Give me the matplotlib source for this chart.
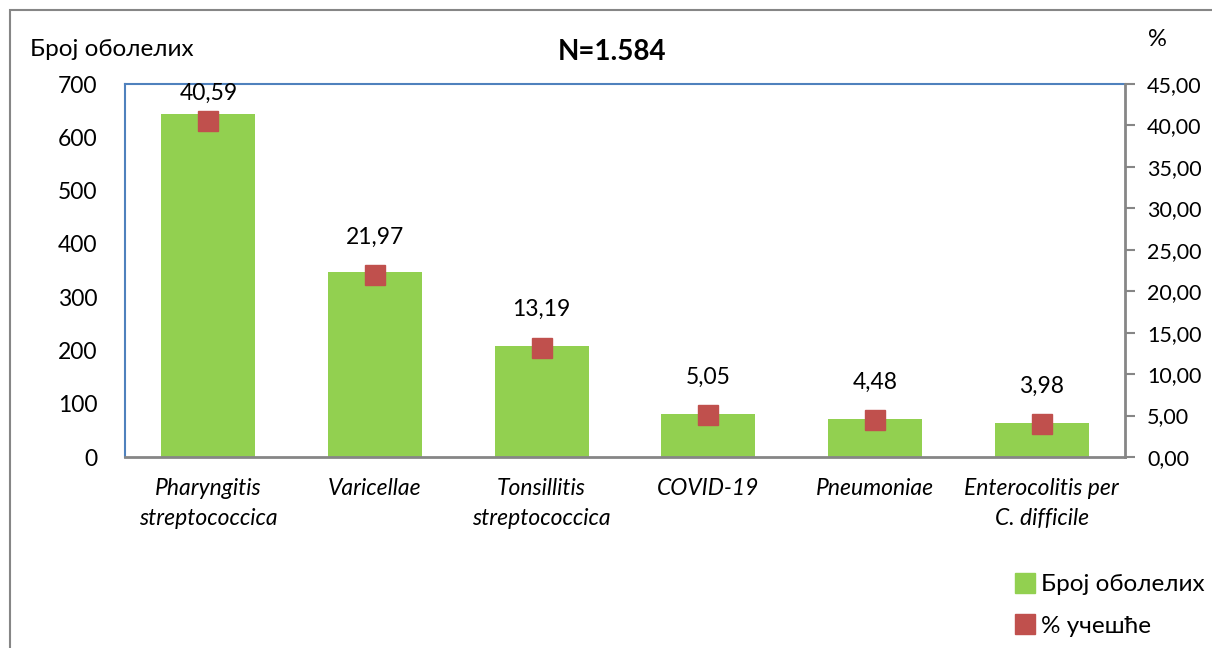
import matplotlib.pyplot as plt
from matplotlib.patches import Rectangle
from matplotlib.lines import Line2D
from matplotlib.ticker import FuncFormatter, MultipleLocator

plt.rcParams['font.family'] = ['Lato', 'Noto Sans', 'DejaVu Sans']

categories = ["Pharyngitis\nstreptococcica", "Varicellae", "Tonsillitis\nstreptococcica",
              "COVID-19", "Pneumoniae", "Enterocolitis per\nC. difficile"]
cases = [643, 348, 209, 80, 71, 63]
percent = [40.59, 21.97, 13.19, 5.05, 4.48, 3.98]
percent_labels = ["40,59", "21,97", "13,19", "5,05", "4,48", "3,98"]
series_names = ["Број оболелих", "% учешће"]

GREEN = "#92D050"
RED = "#C0504D"
BLUE = "#4F81BD"
GRAY = "#868686"

fig = plt.figure(figsize=(12.12, 6.48), dpi=100)
# outer chart frame (only top and left edges show in the crop)
fig.patches.append(Rectangle((10 / 1212, -0.1), 1.2, 1 - 10 / 648 + 0.1,
                             transform=fig.transFigure, fill=False,
                             edgecolor=GRAY, linewidth=1.5))

ax = fig.add_axes([125 / 1212, 1 - 457 / 648, 1000 / 1212, 373 / 648])
x = list(range(len(categories)))
ax.bar(x, cases, width=0.565, color=GREEN, zorder=2)
ax.set_xlim(-0.5, len(categories) - 0.5)
ax.set_ylim(0, 700)
ax.yaxis.set_major_locator(MultipleLocator(100))
ax.tick_params(axis='y', length=0, labelsize=16.5, pad=20)
ax.tick_params(axis='x', length=0, pad=15)
ax.set_xticks(x)
ax.set_xticklabels(categories, fontsize=16.5, style='italic', linespacing=1.55)
for side in ["top", "left"]:
    ax.spines[side].set_color(BLUE)
    ax.spines[side].set_linewidth(1.5)
ax.spines["bottom"].set_color(GRAY)
ax.spines["bottom"].set_linewidth(2)
ax.spines["right"].set_visible(False)

ax2 = ax.twinx()
ax2.plot(x, percent, linestyle='none', marker='s', markersize=14, color=RED, zorder=3)
ax2.set_ylim(0, 45)
ax2.yaxis.set_major_locator(MultipleLocator(5))
ax2.yaxis.set_major_formatter(FuncFormatter(lambda v, p: f"{v:.2f}".replace(".", ",")))
ax2.tick_params(axis='y', direction='out', length=7, width=1.5, color=GRAY,
                labelsize=15.5, pad=9)
for side in ["top", "left", "bottom"]:
    ax2.spines[side].set_visible(False)
ax2.spines["right"].set_color(GRAY)
ax2.spines["right"].set_linewidth(2)

# data labels above the markers
for xi, p, lab in zip(x, percent, percent_labels):
    ypix = min(p * 373 / 45 + 38, 364)
    ax2.annotate(lab, xy=(xi, 0), xycoords='data', xytext=(0, ypix * 0.72),
                 textcoords='offset points', ha='center', va='center', fontsize=16.5)

fig.text(30 / 1212, 1 - 50 / 648, "Број оболелих", fontsize=17.5, va='center', ha='left')
fig.text(612 / 1212, 1 - 52 / 648, "N=1.584", fontsize=20, fontweight='bold',
         va='center', ha='center')
fig.text(1157 / 1212, 1 - 40 / 648, "%", fontsize=17, va='center', ha='center')

handles = [Line2D([], [], linestyle='none', marker='s', markersize=14, color=GREEN),
           Line2D([], [], linestyle='none', marker='s', markersize=14, color=RED)]
fig.legend(handles, series_names, loc='upper left', bbox_to_anchor=(998 / 1212, 1 - 562 / 648),
           frameon=False, fontsize=17.5, labelspacing=0.85, handletextpad=0.05,
           handlelength=1.2, borderpad=0)

fig.savefig("out.png", dpi=100)
